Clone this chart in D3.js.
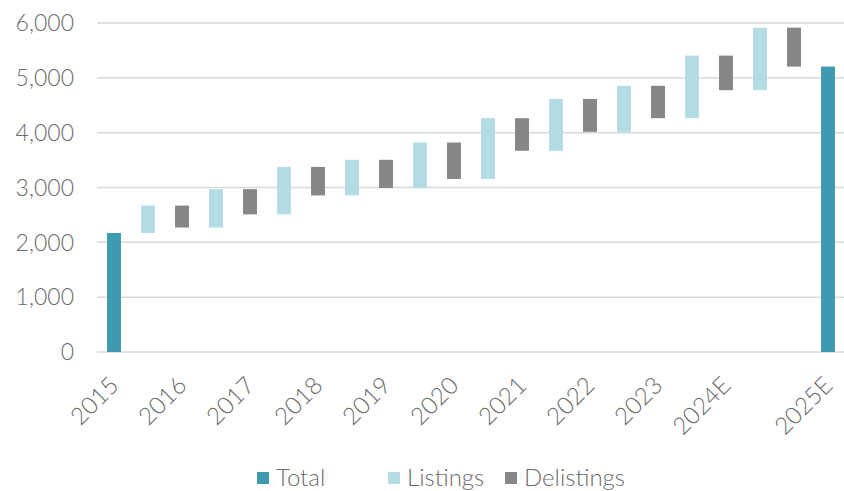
<!DOCTYPE html>
<html>
<head>
<meta charset="utf-8">
<script src="https://cdn.jsdelivr.net/npm/d3@7"></script>
<style>
  body { margin: 0; background: #fff; }
  svg text { font-family: Lato, "Open Sans", sans-serif; font-weight: 300; fill: #6b6b6b; }
</style>
</head>
<body>
<svg id="chart" width="844" height="491"></svg>
<script>
// waterfall: opening total, yearly listings / delistings, closing total
const years = ["2016", "2017", "2018", "2019", "2020", "2021", "2022", "2023", "2024E", "2025E"];
const openingTotal = 2170;
const listings = [500, 700, 865, 650, 830, 1110, 945, 840, 1140, 1140];
const delistings = [400, 460, 520, 515, 665, 595, 600, 590, 630, 710];
const tickLabels = ["2015", "", "2016", "", "2017", "", "2018", "", "2019", "", "2020", "",
  "2021", "", "2022", "", "2023", "", "2024E", "", "", "2025E"];
const yTicks = [0, 1000, 2000, 3000, 4000, 5000, 6000];

const colors = { total: "#3e9aae", listing: "#b4dce4", delisting: "#878787" };

// build the steps
const steps = [];
let level = openingTotal;
steps.push({ type: "total", y0: 0, y1: level });
years.forEach(function(yr, i) {
  steps.push({ type: "listing", y0: level, y1: level + listings[i] });
  level += listings[i];
  steps.push({ type: "delisting", y0: level - delistings[i], y1: level });
  level -= delistings[i];
});
steps.push({ type: "total", y0: 0, y1: level });
steps.forEach(function(d, i) { d.key = i; });

const svg = d3.select("#chart");

const x = d3.scaleBand()
  .domain(steps.map(d => d.key))
  .range([97, 845])
  .paddingInner(0.59)
  .paddingOuter(0.295);

const y = d3.scaleLinear().domain([0, 6000]).range([352, 23]);

// gridlines
svg.append("g")
  .selectAll("line")
  .data(yTicks)
  .enter()
  .append("line")
  .attr("x1", 97)
  .attr("x2", 844)
  .attr("y1", d => y(d))
  .attr("y2", d => y(d))
  .attr("stroke", "#d9d9d9")
  .attr("stroke-width", 1.5);

// y labels
svg.append("g")
  .selectAll("text")
  .data(yTicks)
  .enter()
  .append("text")
  .attr("x", 74)
  .attr("y", d => y(d))
  .attr("dy", "0.36em")
  .attr("text-anchor", "end")
  .style("font-size", "23px")
  .text(d => d3.format(",")(d));

// bars
svg.append("g")
  .selectAll("rect")
  .data(steps)
  .enter()
  .append("rect")
  .attr("x", d => x(d.key))
  .attr("width", x.bandwidth())
  .attr("y", d => y(d.y1))
  .attr("height", d => y(d.y0) - y(d.y1))
  .attr("fill", d => colors[d.type]);

// x labels, rotated
svg.append("g")
  .selectAll("text")
  .data(steps)
  .enter()
  .append("text")
  .attr("transform", d => "translate(" + (x(d.key) + x.bandwidth() / 2 + 6) + ",387) rotate(-45)")
  .attr("text-anchor", "end")
  .style("font-size", "24px")
  .text((d, i) => tickLabels[i]);

// legend
const legend = [
  { label: "Total", type: "total", x: 257 },
  { label: "Listings", type: "listing", x: 388 },
  { label: "Delistings", type: "delisting", x: 505 }
];
const lg = svg.append("g")
  .selectAll("g")
  .data(legend)
  .enter()
  .append("g")
  .attr("transform", d => "translate(" + d.x + ",472)");
lg.append("rect")
  .attr("width", 12)
  .attr("height", 12)
  .attr("fill", d => colors[d.type]);
lg.append("text")
  .attr("x", 19)
  .attr("y", 14)
  .style("font-size", "24px")
  .text(d => d.label);
</script>
</body>
</html>
